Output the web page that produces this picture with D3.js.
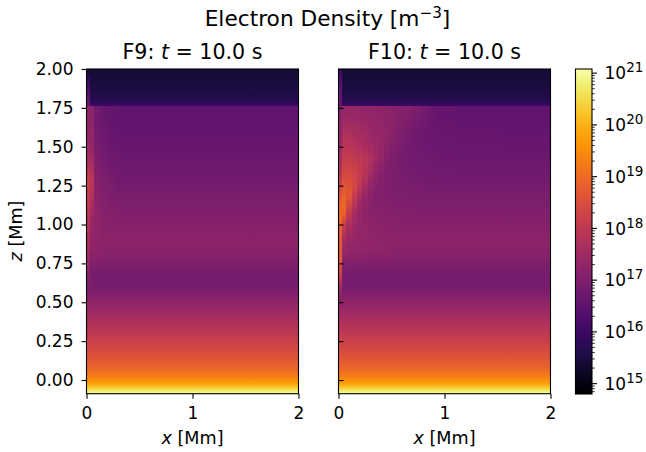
<!DOCTYPE html>
<html><head><meta charset="utf-8">
<script src="https://cdn.jsdelivr.net/npm/d3@7"></script>
<style>
html,body{margin:0;padding:0;background:#fff}
svg{display:block}
text{font-family:"DejaVu Sans";fill:#000}
</style></head><body><svg id="c" width="646" height="452"></svg>
<script>
// x cell edges [Mm]
const xEdges = [0,0.03,0.075,0.125,0.175,0.225,0.275,0.325,0.375,0.425,0.475,0.525,0.575,0.625,0.675,0.725,0.775,0.825,0.875,0.925,1.1,1.5,2];
// z cell edges [Mm], top to bottom
const zEdges = [2,1.95,1.9,1.85,1.8,1.78,1.76,1.7,1.65,1.6,1.55,1.5,1.45,1.4,1.35,1.3,1.25,1.2,1.15,1.1,1.05,1,0.95,0.9,0.85,0.8,0.75,0.7,0.65,0.6,
  0.575,0.55,0.525,0.5,0.475,0.45,0.425,0.4,0.375,0.35,0.325,0.3,0.275,0.25,0.225,0.2,0.175,0.15,0.125,0.1,0.08,0.06,0.04,0.02,0,-0.015,-0.03,-0.045,-0.06,-0.075,-0.088];
const coronaRows = 6; // rows above the sharp front at z = 1.76
// log10 electron density per row; the last value of a row holds to the right edge
const coronaF9 = [[15.42],[15.9,15.46],[16.2,15.52],[16.45,15.6],[16.6,15.72],[16.65,15.95]];
const coronaF10 = [[16.0,15.42],[16.3,15.46],[16.5,15.52],[16.6,15.6],[16.6,15.72],[16.6,15.95]];
const upperF9 = [
 [17.25,17.22,16.8,16.66,16.6,16.57,16.55],
 [17.25,17.24,16.8,16.68,16.62,16.58,16.56],
 [17.3,17.27,16.82,16.71,16.65,16.6,16.58],
 [17.32,17.3,16.85,16.74,16.68,16.63,16.6],
 [17.38,17.35,16.9,16.78,16.72,16.66,16.63],
 [17.45,17.42,16.94,16.82,16.76,16.7,16.66],
 [17.6,17.52,16.98,16.86,16.8,16.74,16.7],
 [17.8,17.65,17.02,16.9,16.85,16.78,16.74],
 [18.0,17.82,17.06,16.95,16.9,16.83,16.78],
 [18.1,17.92,17.1,17.0,16.95,16.88,16.83],
 [18.1,17.88,17.14,17.03,16.98,16.92,16.88],
 [18.05,17.72,17.16,17.06,17.02,16.96,16.93],
 [18.0,17.6,17.2,17.09,17.05,17.0,16.98],
 [17.95,17.48,17.22,17.12,17.08,17.05,17.03],
 [17.85,17.4,17.23,17.15,17.12,17.1,17.08],
 [17.8,17.35,17.23,17.18,17.15,17.13,17.12],
 [17.7,17.3,17.23,17.19,17.18,17.17,17.16],
 [17.6,17.26,17.22,17.2,17.19,17.18],
 [17.5,17.22,17.2,17.17,17.15],
 [17.4,17.1,17.08],
 [17.3,16.97,16.95],
 [17.15,16.89,16.87],
 [17.0,16.88,16.87]
];
const upperF10 = [
 [17.1,17.35,17.35,17.33,17.32,17.3,17.28,17.25,17.22,17.2,17.17,17.13,17.1,17.05,17.0,16.93,16.85,16.75,16.65,16.6,16.56,16.55],
 [17.2,17.45,17.45,17.42,17.4,17.37,17.33,17.3,17.26,17.22,17.18,17.13,17.07,17.0,16.92,16.84,16.77,16.7,16.65,16.6,16.57,16.56],
 [17.3,17.6,17.58,17.55,17.5,17.45,17.4,17.35,17.3,17.25,17.18,17.1,17.02,16.94,16.86,16.8,16.74,16.7,16.66,16.63,16.6,16.58],
 [17.3,17.75,17.72,17.66,17.6,17.53,17.47,17.4,17.33,17.25,17.15,17.05,16.96,16.88,16.82,16.76,16.72,16.7,16.67,16.65,16.62,16.6],
 [17.4,17.85,17.82,17.76,17.68,17.6,17.52,17.43,17.33,17.22,17.1,17.0,16.92,16.85,16.8,16.76,16.73,16.71,16.69,16.67,16.64,16.63],
 [17.5,17.97,17.95,17.9,17.82,17.72,17.6,17.47,17.33,17.18,17.05,16.96,16.9,16.84,16.8,16.77,16.75,16.73,16.71,16.7,16.67,16.66],
 [17.6,18.1,18.1,18.05,17.98,17.88,17.72,17.5,17.28,17.1,17.0,16.93,16.88,16.84,16.81,16.79,16.77,16.75,16.74,16.72,16.7],
 [17.7,18.25,18.25,18.18,18.05,17.9,17.68,17.4,17.18,17.03,16.96,16.92,16.88,16.85,16.83,16.81,16.79,16.78,16.77,16.76,16.74],
 [17.9,18.4,18.38,18.27,18.1,17.85,17.55,17.27,17.1,17.0,16.95,16.92,16.89,16.87,16.85,16.84,16.83,16.82,16.81,16.8,16.78],
 [18.1,18.55,18.52,18.35,18.05,17.72,17.4,17.18,17.06,17.0,16.96,16.93,16.91,16.89,16.88,16.87,16.86,16.85,16.84,16.83],
 [18.4,18.7,18.62,18.3,17.9,17.52,17.25,17.1,17.04,17.0,16.97,16.95,16.94,16.93,16.92,16.91,16.9,16.89,16.88],
 [18.7,18.85,18.6,18.1,17.65,17.35,17.18,17.08,17.04,17.02,17.0,16.98,16.97,16.96,16.95,16.94,16.93],
 [18.9,18.95,18.4,17.85,17.47,17.26,17.15,17.08,17.05,17.04,17.03,17.02,17.01,17.0,16.99,16.98],
 [18.95,18.85,18.05,17.6,17.35,17.22,17.15,17.11,17.09,17.08,17.07,17.06,17.05,17.04,17.03],
 [18.95,18.45,17.8,17.5,17.33,17.25,17.2,17.16,17.14,17.12,17.11,17.1,17.09,17.08],
 [18.8,18.0,17.6,17.42,17.32,17.26,17.22,17.2,17.18,17.16,17.15,17.14,17.13,17.12],
 [18.7,17.7,17.45,17.36,17.3,17.26,17.24,17.22,17.2,17.19,17.18,17.17,17.16],
 [18.7,17.5,17.38,17.32,17.29,17.26,17.24,17.23,17.22,17.21,17.2,17.19,17.18],
 [18.7,17.4,17.3,17.27,17.25,17.24,17.23,17.22,17.21,17.2,17.17,17.15],
 [18.7,17.2,17.14,17.12,17.1,17.09,17.08],
 [18.5,17.0,16.97,16.95],
 [18.2,16.89,16.88,16.87],
 [17.8,16.88,16.87]
];
const lowerProfile = [16.92,17.0,17.08,17.18,17.28,17.38,17.48,17.58,17.68,17.77,17.86,17.95,18.05,18.15,18.25,18.35,18.45,18.55,18.65,18.75,18.87,18.97,19.1,19.25,19.42,19.6,19.8,20.05,20.35,20.65,20.95];
const lowerStripF10 = [17.4,17.3,17.2];

const panelTitles = ["F9","F10"];
const timeLabel = "10.0";
const zTicks = [0,0.25,0.5,0.75,1,1.25,1.5,1.75,2];
const xTicks = [0,1,2];
const cbarDecades = [15,16,17,18,19,20,21];
const logMin = 14.8, logMax = 21.08;

const svg = d3.select("#c");
const defs = svg.append("defs");
const top_ = 69, bottom = 393.7;
const y = d3.scaleLinear().domain([-0.088,2]).range([bottom,top_]);
const color = d3.scaleSequential(d3.interpolateInferno).domain([logMin,logMax]);
const FS = 17;

function rowsFor(corona, upper, strip){
  const low = lowerProfile.map((v,i)=> strip && i<strip.length ? [strip[i],v] : [v]);
  return corona.concat(upper, low);
}
function panel(x0,x1,rows,title,leftLabels){
  const x = d3.scaleLinear().domain([0,2]).range([x0,x1]);
  const g = svg.append("g");
  const zSpan = zEdges[0]-zEdges[zEdges.length-1];
  const off = z => ((zEdges[0]-z)/zSpan*100)+"%";
  const at = (r,j) => r[Math.min(j,r.length-1)];
  d3.range(xEdges.length-1).forEach(j=>{
    const id = "g"+title+"_"+j;
    const lg = defs.append("linearGradient").attr("id",id).attr("x1",0).attr("x2",0).attr("y1",0).attr("y2",1);
    const stops = [];
    rows.forEach((r,i)=>{
      const v = at(r,j), zc=(zEdges[i]+zEdges[i+1])/2;
      if(i===0) stops.push([zEdges[0],v]);
      stops.push([zc,v]);
      if(i===coronaRows-1) stops.push([zEdges[i+1]+0.001,v]);
      if(i===coronaRows) { stops.splice(stops.length-1,0,[zEdges[i]-0.001,v]); }
      if(i===rows.length-1) stops.push([zEdges[i+1],v]);
    });
    lg.selectAll("stop").data(stops).join("stop")
      .attr("offset",d=>off(d[0])).attr("stop-color",d=>color(d[1]));
    g.append("rect").attr("x",x(xEdges[j])).attr("width",x(xEdges[j+1])-x(xEdges[j])+0.3)
      .attr("y",y(zEdges[0])).attr("height",y(zEdges[zEdges.length-1])-y(zEdges[0]))
      .attr("fill","url(#"+id+")").attr("shape-rendering","crispEdges");
  });
  const ax = g.append("g").attr("transform",`translate(0,${bottom})`)
    .call(d3.axisBottom(x).tickValues(xTicks).tickFormat(d3.format("d")).tickSize(5).tickPadding(6));
  ax.select(".domain").remove();
  ax.selectAll(".tick text").attr("dy",null).attr("y",25.6);
  const ay = g.append("g").attr("transform",`translate(${x0},0)`);
  if(leftLabels){
    ay.call(d3.axisLeft(y).tickValues(zTicks).tickFormat(d3.format(".2f")).tickSize(5).tickPadding(8));
  } else {
    ay.call(d3.axisRight(y).tickValues(zTicks).tickFormat("").tickSize(5));
  }
  ay.select(".domain").remove();
  g.selectAll(".tick line").attr("stroke","#000").attr("stroke-width",1.1);
  g.selectAll(".tick text").attr("font-size",FS).attr("font-family","DejaVu Sans").attr("fill","#000");
  g.append("rect").attr("x",x0).attr("y",top_).attr("width",x1-x0).attr("height",bottom-top_)
    .attr("fill","none").attr("stroke","#000").attr("stroke-width",1.1);
  const t = g.append("text").attr("x",(x0+x1)/2).attr("y",58.5).attr("text-anchor","middle").attr("font-size",20.6);
  t.append("tspan").text(title+": ");
  t.append("tspan").attr("font-style","italic").text("t");
  t.append("tspan").text(" = "+timeLabel+" s");
  const xl = g.append("text").attr("x",(x0+x1)/2).attr("y",444).attr("text-anchor","middle").attr("font-size",17.6);
  xl.append("tspan").attr("font-style","italic").text("x");
  xl.append("tspan").text(" [Mm]");
}
panel(86.5,298.5,rowsFor(coronaF9,upperF9,null),panelTitles[0],true);
panel(338.5,550.5,rowsFor(coronaF10,upperF10,lowerStripF10),panelTitles[1],false);

const yl = svg.append("text").attr("transform","translate(22,231) rotate(-90)").attr("text-anchor","middle").attr("font-size",17.6);
yl.append("tspan").attr("font-style","italic").text("z");
yl.append("tspan").text(" [Mm]");

const st = svg.append("text").attr("x",327.5).attr("y",26).attr("text-anchor","middle").attr("font-size",21.7);
st.append("tspan").text("Electron Density [m");
st.append("tspan").attr("font-size",15.2).attr("dy",-8.5).text("−3");
st.append("tspan").attr("dy",8.5).text("]");

// colorbar
const cx0=575.5, cx1=592;
const cb = svg.append("g");
const cy = d3.scaleLog().domain([Math.pow(10,logMin),Math.pow(10,logMax)]).range([394,69]);
const cl = d3.scaleLinear().domain([logMin,logMax]).range([394,69]);
const steps = d3.range(0,325).map(i=>logMin+(logMax-logMin)*i/325);
cb.selectAll("rect.s").data(steps).join("rect").attr("class","s")
  .attr("x",cx0).attr("width",cx1-cx0).attr("y",d=>cl(d)-1)
  .attr("height",1.3).attr("fill",d=>color(d)).attr("shape-rendering","crispEdges");
cb.append("rect").attr("x",cx0).attr("y",69).attr("width",cx1-cx0).attr("height",325).attr("fill","none").attr("stroke","#000").attr("stroke-width",1.1);
const minor=[];
d3.range(14,22).forEach(d=>{d3.range(2,10).forEach(m=>{const v=m*Math.pow(10,d); if(v>=cy.domain()[0]&&v<=cy.domain()[1]) minor.push(v);});});
cb.selectAll("line.m").data(minor).join("line").attr("class","m")
  .attr("x1",cx1).attr("x2",cx1+2.8).attr("y1",d=>cy(d)).attr("y2",d=>cy(d)).attr("stroke","#000").attr("stroke-width",0.8);
cb.selectAll("line.M").data(cbarDecades).join("line").attr("class","M")
  .attr("x1",cx1).attr("x2",cx1+5).attr("y1",d=>cy(Math.pow(10,d))).attr("y2",d=>cy(Math.pow(10,d))).attr("stroke","#000").attr("stroke-width",1.1);
const lab = cb.selectAll("text").data(cbarDecades).join("text")
  .attr("x",cx1+12.5).attr("y",d=>cy(Math.pow(10,d))+6.3).attr("font-size",17);
lab.append("tspan").text("10");
lab.append("tspan").attr("font-size",13.5).attr("dy",-7).text(d=>d);
</script></body></html>
